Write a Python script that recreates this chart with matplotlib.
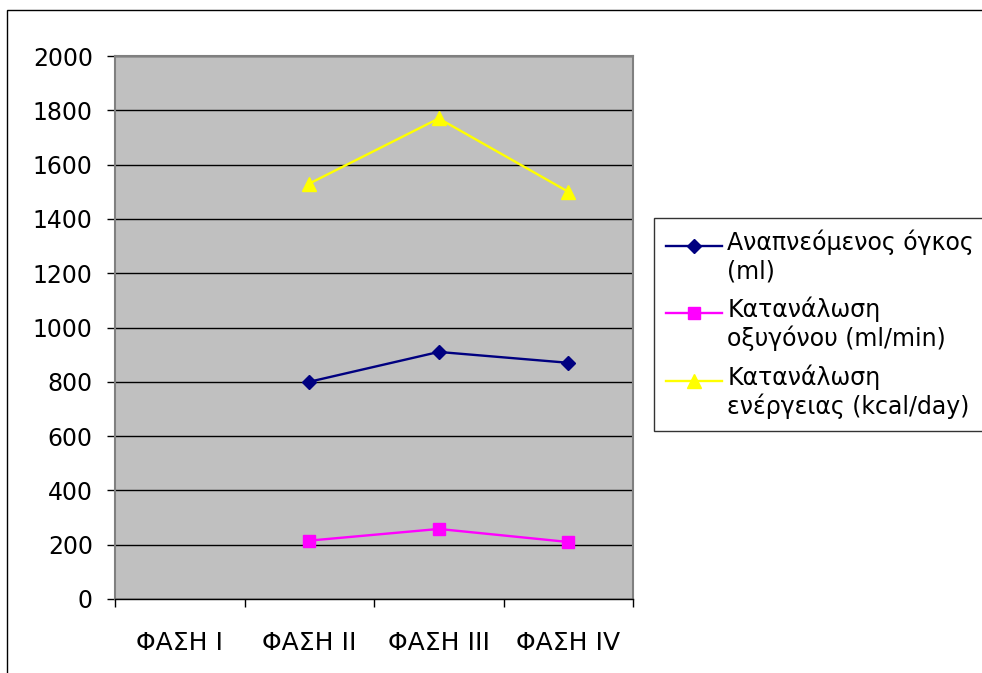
import matplotlib.pyplot as plt
from matplotlib.patches import Rectangle
from matplotlib.legend_handler import HandlerLine2D
import numpy as np

plt.rcParams['font.family'] = ['DejaVu Sans']

# data
phases = ['ΦΑΣΗ I', 'ΦΑΣΗ II', 'ΦΑΣΗ III', 'ΦΑΣΗ IV']
tidal_volume = [np.nan, 800, 910, 870]
oxygen = [np.nan, 215, 258, 210]
energy = [np.nan, 1530, 1770, 1500]
labels = ['Αναπνεόμενος όγκος\n(ml)',
          'Κατανάλωση\nοξυγόνου (ml/min)',
          'Κατανάλωση\nενέργειας (kcal/day)']


# legend keys sit on the first text line, not the middle of the entry
class TopLineHandler(HandlerLine2D):
    def create_artists(self, legend, orig_handle, xdescent, ydescent,
                       width, height, fontsize, trans):
        arts = super().create_artists(legend, orig_handle, xdescent, ydescent,
                                      width, height, fontsize, trans)
        for a in arts:
            a.set_ydata(np.asarray(a.get_ydata()) + 0.5 * fontsize)
        return arts


fig = plt.figure(figsize=(9.82, 6.73), dpi=100)
ax = fig.add_axes([115 / 982, 1 - 599 / 673, 518 / 982, 543 / 673])
ax.set_facecolor('#c0c0c0')

x = np.arange(len(phases))
l1, = ax.plot(x, tidal_volume, color='#000080', marker='D', markersize=7.5, lw=1.7, label=labels[0])
l2, = ax.plot(x, oxygen, color='#ff00ff', marker='s', markersize=8.5, lw=1.7, label=labels[1])
l3, = ax.plot(x, energy, color='#ffff00', marker='^', markersize=9.5, lw=1.7, label=labels[2])

ax.set_xlim(-0.5, len(phases) - 0.5)
ax.set_ylim(0, 2000)
ax.set_yticks(np.arange(0, 2001, 200))
ax.yaxis.grid(True, color='black', lw=1)
ax.set_axisbelow(True)

ax.set_xticks(x)
ax.set_xticklabels(phases)
ax.set_xticks(np.arange(-0.5, len(phases), 1), minor=True)
ax.tick_params(axis='x', which='major', length=0, pad=23, labelsize=18)
ax.tick_params(axis='x', which='minor', length=6, width=1, color='black')
ax.tick_params(axis='y', length=6, width=1, color='black', labelsize=17, pad=10)

for s in ax.spines.values():
    s.set_color('#808080')
    s.set_linewidth(1.5)
ax.spines['bottom'].set_color('black')
ax.spines['bottom'].set_linewidth(1)

hm = {h: TopLineHandler() for h in (l1, l2, l3)}
leg = fig.legend(handles=[l1, l2, l3], handler_map=hm,
                 loc='upper left', bbox_to_anchor=(654 / 982, 1 - 218 / 673),
                 fontsize=17, frameon=True, fancybox=False, handlelength=2.4,
                 handletextpad=0.2, labelspacing=0.55, borderpad=0.5, borderaxespad=0)
leg.get_frame().set_edgecolor('black')
leg.get_frame().set_linewidth(1)

fig.patches.append(Rectangle((7 / 982, -0.01), 1.0, 1 - 10 / 673 + 0.01,
                             transform=fig.transFigure, fill=False,
                             edgecolor='black', lw=1))

fig.savefig('out.png', dpi=100)
